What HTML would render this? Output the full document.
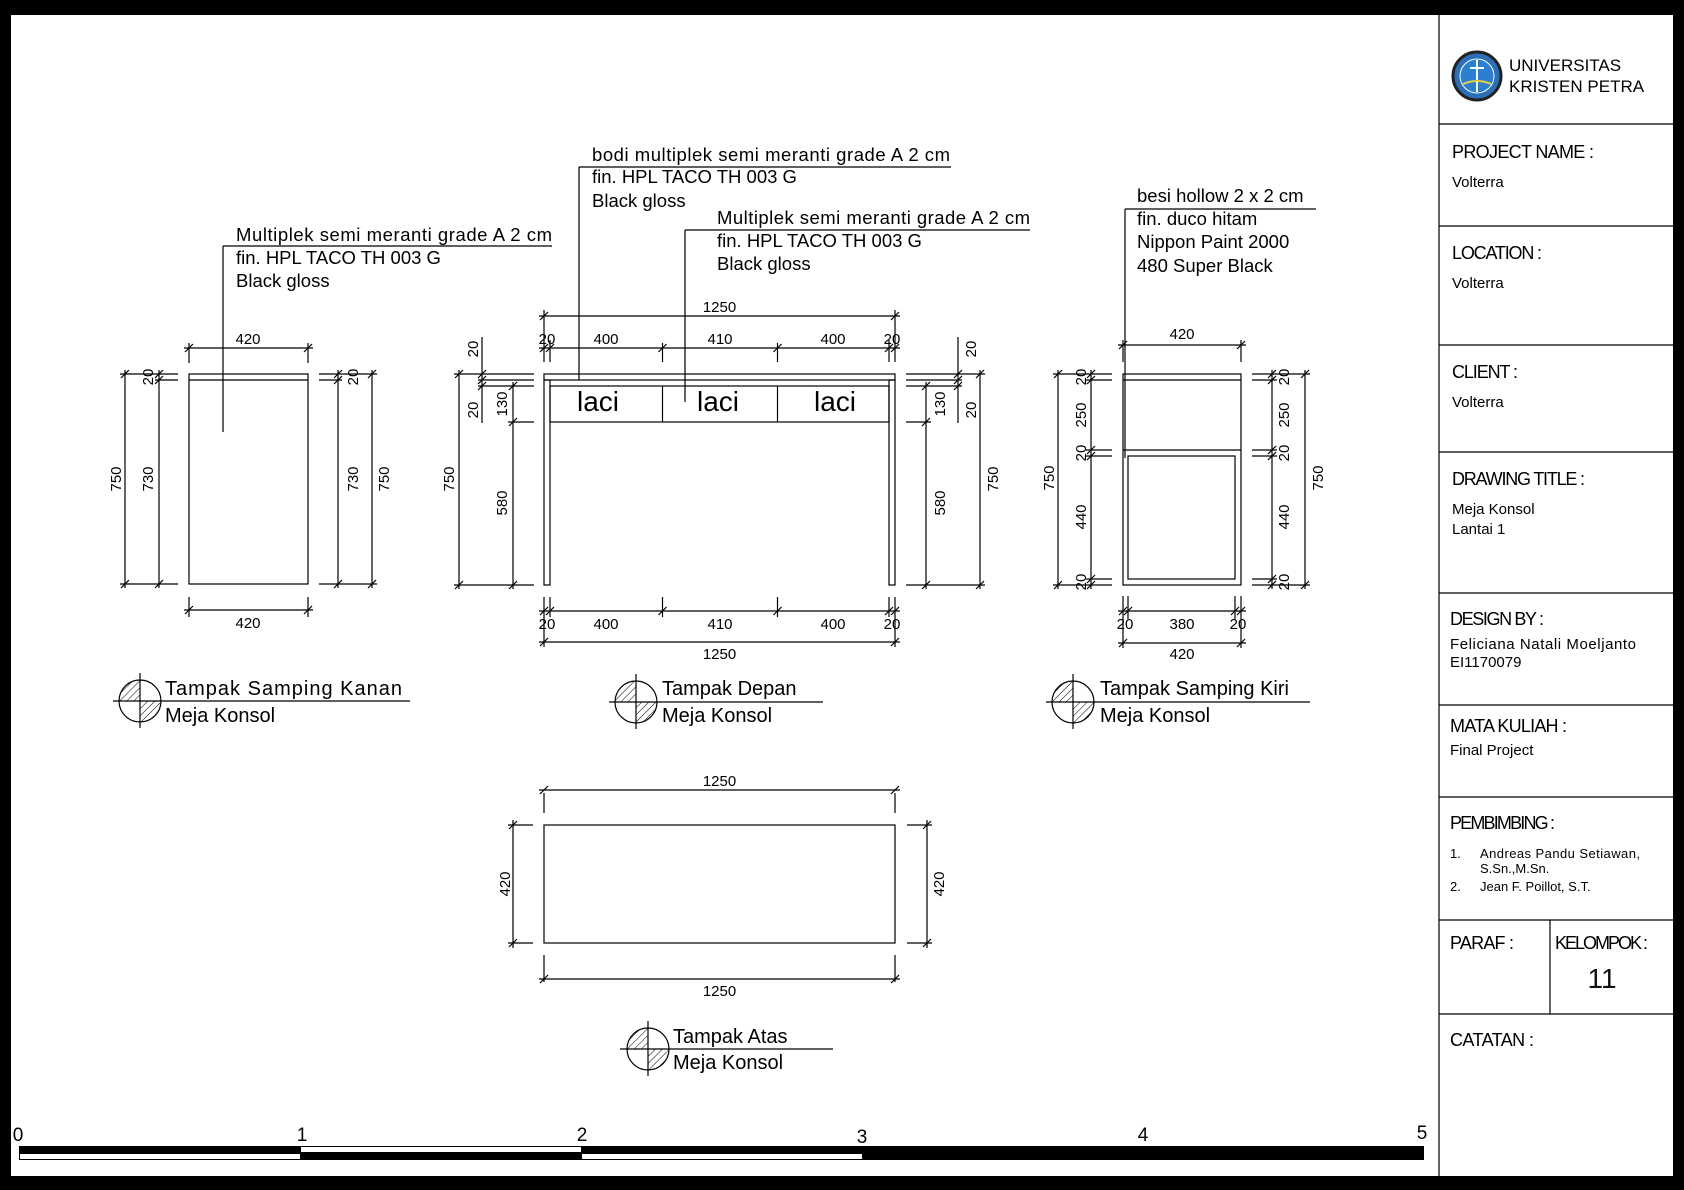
<!DOCTYPE html>
<html><head><meta charset="utf-8"><style>
html,body{margin:0;padding:0;background:#fff;}
svg{display:block;}
text{font-family:"Liberation Sans",Arial,sans-serif;fill:#000;}
.d{font-size:15px;text-anchor:middle;}
.a{font-size:18.5px;}
.l{font-size:20px;}
.tb{font-family:"Liberation Sans Narrow","Liberation Sans",sans-serif;fill:#111;}
</style></head><body>
<svg width="1684" height="1190" viewBox="0 0 1684 1190" xmlns="http://www.w3.org/2000/svg">
<defs>
<path id="t" d="M-4,4 L4,-4" stroke="#000" stroke-width="1.2"/>
<pattern id="h" width="5" height="5" patternUnits="userSpaceOnUse" patternTransform="rotate(45)">
<line x1="0" y1="0" x2="0" y2="5" stroke="#000" stroke-width="1"/>
</pattern>
</defs>
<rect width="1684" height="1190" fill="#fff"/>
<!-- frame -->
<rect x="0" y="0" width="1684" height="15" fill="#000"/>
<rect x="0" y="0" width="11" height="1190" fill="#000"/>
<rect x="1673" y="0" width="11" height="1190" fill="#000"/>
<rect x="0" y="1176" width="1684" height="14" fill="#000"/>

<g stroke="#000" stroke-width="1.2" fill="none">
<!-- title block lines -->
<line x1="1439" y1="15" x2="1439" y2="1176"/>
<line x1="1439" y1="124" x2="1673" y2="124"/>
<line x1="1439" y1="226" x2="1673" y2="226"/>
<line x1="1439" y1="345" x2="1673" y2="345"/>
<line x1="1439" y1="452" x2="1673" y2="452"/>
<line x1="1439" y1="593" x2="1673" y2="593"/>
<line x1="1439" y1="705" x2="1673" y2="705"/>
<line x1="1439" y1="797" x2="1673" y2="797"/>
<line x1="1439" y1="920" x2="1673" y2="920"/>
<line x1="1439" y1="1014" x2="1673" y2="1014"/>
<line x1="1550" y1="920" x2="1550" y2="1014"/>

<!-- ===== Right side view (left drawing) ===== -->
<rect x="189" y="374" width="119" height="210"/>
<line x1="189" y1="380" x2="308" y2="380"/>
<line x1="223" y1="246" x2="223" y2="432"/>
<line x1="223" y1="246" x2="552" y2="246"/>
<line x1="120" y1="374" x2="178" y2="374"/><line x1="155" y1="380" x2="178" y2="380"/><line x1="120" y1="584" x2="178" y2="584"/>
<line x1="125" y1="370" x2="125" y2="588"/><line x1="159" y1="370" x2="159" y2="588"/>
<line x1="319" y1="374" x2="377" y2="374"/><line x1="319" y1="380" x2="342" y2="380"/><line x1="319" y1="584" x2="377" y2="584"/>
<line x1="338" y1="370" x2="338" y2="588"/><line x1="372" y1="370" x2="372" y2="588"/>
<line x1="189" y1="343" x2="189" y2="363"/><line x1="308" y1="343" x2="308" y2="363"/><line x1="184" y1="348" x2="313" y2="348"/>
<line x1="189" y1="597" x2="189" y2="617"/><line x1="308" y1="597" x2="308" y2="617"/><line x1="184" y1="610" x2="313" y2="610"/>

<!-- ===== Front view ===== -->
<rect x="544" y="374" width="351" height="6"/>
<rect x="544" y="380" width="6" height="205"/>
<rect x="889" y="380" width="6" height="205"/>
<rect x="550" y="386" width="339" height="36"/>
<line x1="662.5" y1="386" x2="662.5" y2="422"/><line x1="777.5" y1="386" x2="777.5" y2="422"/>
<line x1="579" y1="167" x2="579" y2="380"/><line x1="579" y1="167" x2="951" y2="167"/>
<line x1="685" y1="230" x2="685" y2="402"/><line x1="685" y1="230" x2="1030" y2="230"/>
<line x1="544" y1="310" x2="544" y2="362"/><line x1="895" y1="310" x2="895" y2="362"/>
<line x1="550" y1="340" x2="550" y2="362"/><line x1="889" y1="340" x2="889" y2="362"/>
<line x1="662.5" y1="343" x2="662.5" y2="362"/><line x1="777.5" y1="343" x2="777.5" y2="362"/>
<line x1="539" y1="316" x2="900" y2="316"/><line x1="539" y1="348" x2="900" y2="348"/>
<line x1="544" y1="597" x2="544" y2="647"/><line x1="895" y1="597" x2="895" y2="647"/>
<line x1="550" y1="597" x2="550" y2="617"/><line x1="889" y1="597" x2="889" y2="617"/>
<line x1="662.5" y1="597" x2="662.5" y2="617"/><line x1="777.5" y1="597" x2="777.5" y2="617"/>
<line x1="539" y1="611" x2="900" y2="611"/><line x1="539" y1="642" x2="900" y2="642"/>
<line x1="454" y1="374" x2="534" y2="374"/><line x1="478" y1="380" x2="534" y2="380"/><line x1="478" y1="386" x2="534" y2="386"/>
<line x1="508" y1="422" x2="534" y2="422"/><line x1="454" y1="585" x2="534" y2="585"/>
<line x1="459" y1="370" x2="459" y2="589"/><line x1="482" y1="337" x2="482" y2="423"/><line x1="513" y1="382" x2="513" y2="589"/>
<line x1="906" y1="374" x2="985" y2="374"/><line x1="906" y1="380" x2="962" y2="380"/><line x1="906" y1="386" x2="962" y2="386"/>
<line x1="906" y1="422" x2="931" y2="422"/><line x1="906" y1="585" x2="985" y2="585"/>
<line x1="980" y1="370" x2="980" y2="589"/><line x1="958" y1="337" x2="958" y2="423"/><line x1="926" y1="382" x2="926" y2="589"/>

<!-- ===== Left side view (right drawing) ===== -->
<rect x="1123" y="374" width="118" height="211"/>
<line x1="1123" y1="380" x2="1241" y2="380"/>
<line x1="1123" y1="450" x2="1241" y2="450"/>
<rect x="1128" y="456" width="107" height="123"/>
<line x1="1125" y1="209" x2="1125" y2="458"/><line x1="1125" y1="209" x2="1316" y2="209"/>
<line x1="1053" y1="374" x2="1112" y2="374"/><line x1="1053" y1="585" x2="1112" y2="585"/>
<line x1="1086" y1="380" x2="1112" y2="380"/><line x1="1086" y1="450" x2="1112" y2="450"/><line x1="1086" y1="456" x2="1112" y2="456"/><line x1="1086" y1="579" x2="1112" y2="579"/>
<line x1="1058" y1="370" x2="1058" y2="589"/><line x1="1091" y1="370" x2="1091" y2="589"/>
<line x1="1252" y1="374" x2="1310" y2="374"/><line x1="1252" y1="585" x2="1310" y2="585"/>
<line x1="1252" y1="380" x2="1277" y2="380"/><line x1="1252" y1="450" x2="1277" y2="450"/><line x1="1252" y1="456" x2="1277" y2="456"/><line x1="1252" y1="579" x2="1277" y2="579"/>
<line x1="1272" y1="370" x2="1272" y2="589"/><line x1="1305" y1="370" x2="1305" y2="589"/>
<line x1="1123" y1="340" x2="1123" y2="362"/><line x1="1241" y1="340" x2="1241" y2="362"/><line x1="1118" y1="345" x2="1246" y2="345"/>
<line x1="1123" y1="596" x2="1123" y2="648"/><line x1="1241" y1="596" x2="1241" y2="648"/>
<line x1="1128" y1="596" x2="1128" y2="619"/><line x1="1235" y1="596" x2="1235" y2="619"/>
<line x1="1118" y1="611" x2="1246" y2="611"/><line x1="1118" y1="643" x2="1246" y2="643"/>

<!-- ===== Top view ===== -->
<rect x="544" y="825" width="351" height="118"/>
<line x1="544" y1="793" x2="544" y2="813"/><line x1="895" y1="793" x2="895" y2="813"/><line x1="539" y1="790" x2="900" y2="790"/>
<line x1="544" y1="955" x2="544" y2="982"/><line x1="895" y1="955" x2="895" y2="982"/><line x1="539" y1="979" x2="900" y2="979"/>
<line x1="508" y1="825" x2="533" y2="825"/><line x1="508" y1="943" x2="533" y2="943"/><line x1="513" y1="820" x2="513" y2="948"/>
<line x1="907" y1="825" x2="932" y2="825"/><line x1="907" y1="943" x2="932" y2="943"/><line x1="927" y1="820" x2="927" y2="948"/>

<!-- label symbols -->
<line x1="113" y1="701" x2="410" y2="701"/><line x1="140" y1="673" x2="140" y2="728"/><circle cx="140" cy="701" r="21"/>
<line x1="609" y1="702" x2="823" y2="702"/><line x1="636" y1="674" x2="636" y2="729"/><circle cx="636" cy="702" r="21"/>
<line x1="1046" y1="702" x2="1310" y2="702"/><line x1="1073" y1="674" x2="1073" y2="729"/><circle cx="1073" cy="702" r="21"/>
<line x1="620" y1="1049" x2="833" y2="1049"/><line x1="648" y1="1021" x2="648" y2="1076"/><circle cx="648" cy="1049" r="21"/>
</g>
<g fill="url(#h)" stroke="none">
<path d="M140,701 L119,701 A21,21 0 0 1 140,680 Z"/><path d="M140,701 L161,701 A21,21 0 0 1 140,722 Z"/>
<path d="M636,702 L615,702 A21,21 0 0 1 636,681 Z"/><path d="M636,702 L657,702 A21,21 0 0 1 636,723 Z"/>
<path d="M1073,702 L1052,702 A21,21 0 0 1 1073,681 Z"/><path d="M1073,702 L1094,702 A21,21 0 0 1 1073,723 Z"/>
<path d="M648,1049 L627,1049 A21,21 0 0 1 648,1028 Z"/><path d="M648,1049 L669,1049 A21,21 0 0 1 648,1070 Z"/>
</g>

<!-- ticks -->
<g>
<use href="#t" x="125" y="374"/><use href="#t" x="125" y="584"/><use href="#t" x="159" y="374"/><use href="#t" x="159" y="380"/><use href="#t" x="159" y="584"/>
<use href="#t" x="338" y="374"/><use href="#t" x="338" y="380"/><use href="#t" x="338" y="584"/><use href="#t" x="372" y="374"/><use href="#t" x="372" y="584"/>
<use href="#t" x="189" y="348"/><use href="#t" x="308" y="348"/><use href="#t" x="189" y="610"/><use href="#t" x="308" y="610"/>
<use href="#t" x="544" y="316"/><use href="#t" x="895" y="316"/>
<use href="#t" x="544" y="348"/><use href="#t" x="550" y="348"/><use href="#t" x="662.5" y="348"/><use href="#t" x="777.5" y="348"/><use href="#t" x="889" y="348"/><use href="#t" x="895" y="348"/>
<use href="#t" x="544" y="611"/><use href="#t" x="550" y="611"/><use href="#t" x="662.5" y="611"/><use href="#t" x="777.5" y="611"/><use href="#t" x="889" y="611"/><use href="#t" x="895" y="611"/>
<use href="#t" x="544" y="642"/><use href="#t" x="895" y="642"/>
<use href="#t" x="459" y="374"/><use href="#t" x="459" y="585"/><use href="#t" x="482" y="374"/><use href="#t" x="482" y="380"/><use href="#t" x="482" y="386"/>
<use href="#t" x="513" y="386"/><use href="#t" x="513" y="422"/><use href="#t" x="513" y="585"/>
<use href="#t" x="980" y="374"/><use href="#t" x="980" y="585"/><use href="#t" x="958" y="374"/><use href="#t" x="958" y="380"/><use href="#t" x="958" y="386"/>
<use href="#t" x="926" y="386"/><use href="#t" x="926" y="422"/><use href="#t" x="926" y="585"/>
<use href="#t" x="1058" y="374"/><use href="#t" x="1058" y="585"/><use href="#t" x="1305" y="374"/><use href="#t" x="1305" y="585"/>
<use href="#t" x="1091" y="374"/><use href="#t" x="1091" y="380"/><use href="#t" x="1091" y="450"/><use href="#t" x="1091" y="456"/><use href="#t" x="1091" y="579"/><use href="#t" x="1091" y="585"/>
<use href="#t" x="1272" y="374"/><use href="#t" x="1272" y="380"/><use href="#t" x="1272" y="450"/><use href="#t" x="1272" y="456"/><use href="#t" x="1272" y="579"/><use href="#t" x="1272" y="585"/>
<use href="#t" x="1123" y="345"/><use href="#t" x="1241" y="345"/>
<use href="#t" x="1123" y="611"/><use href="#t" x="1128" y="611"/><use href="#t" x="1235" y="611"/><use href="#t" x="1241" y="611"/>
<use href="#t" x="1123" y="643"/><use href="#t" x="1241" y="643"/>
<use href="#t" x="544" y="790"/><use href="#t" x="895" y="790"/><use href="#t" x="544" y="979"/><use href="#t" x="895" y="979"/>
<use href="#t" x="513" y="825"/><use href="#t" x="513" y="943"/><use href="#t" x="927" y="825"/><use href="#t" x="927" y="943"/>
</g>

<!-- dimension texts -->
<g class="d">
<text x="248" y="344">420</text><text x="248" y="628">420</text>
<text transform="translate(115,479) rotate(-90)" dy="6">750</text>
<text transform="translate(147,479) rotate(-90)" dy="6">730</text>
<text transform="translate(147,377) rotate(-90)" dy="6">20</text>
<text transform="translate(352,479) rotate(-90)" dy="6">730</text>
<text transform="translate(383,479) rotate(-90)" dy="6">750</text>
<text transform="translate(352,377) rotate(-90)" dy="6">20</text>

<text x="719.5" y="312">1250</text>
<text x="547" y="344">20</text><text x="606" y="344">400</text><text x="720" y="344">410</text><text x="833" y="344">400</text><text x="892" y="344">20</text>
<text x="547" y="629">20</text><text x="606" y="629">400</text><text x="720" y="629">410</text><text x="833" y="629">400</text><text x="892" y="629">20</text>
<text x="719.5" y="659">1250</text>
<text transform="translate(448,479) rotate(-90)" dy="6">750</text>
<text transform="translate(472,349) rotate(-90)" dy="6">20</text>
<text transform="translate(472,410) rotate(-90)" dy="6">20</text>
<text transform="translate(501,404) rotate(-90)" dy="6">130</text>
<text transform="translate(501,503) rotate(-90)" dy="6">580</text>
<text transform="translate(992,479) rotate(-90)" dy="6">750</text>
<text transform="translate(970,349) rotate(-90)" dy="6">20</text>
<text transform="translate(970,410) rotate(-90)" dy="6">20</text>
<text transform="translate(939,404) rotate(-90)" dy="6">130</text>
<text transform="translate(939,503) rotate(-90)" dy="6">580</text>

<text x="1182" y="339">420</text>
<text x="1125" y="629">20</text><text x="1182" y="629">380</text><text x="1238" y="629">20</text>
<text x="1182" y="659">420</text>
<text transform="translate(1048,478) rotate(-90)" dy="6">750</text>
<text transform="translate(1080,377) rotate(-90)" dy="6">20</text>
<text transform="translate(1080,415) rotate(-90)" dy="6">250</text>
<text transform="translate(1080,453) rotate(-90)" dy="6">20</text>
<text transform="translate(1080,517) rotate(-90)" dy="6">440</text>
<text transform="translate(1080,582) rotate(-90)" dy="6">20</text>
<text transform="translate(1283,377) rotate(-90)" dy="6">20</text>
<text transform="translate(1283,415) rotate(-90)" dy="6">250</text>
<text transform="translate(1283,453) rotate(-90)" dy="6">20</text>
<text transform="translate(1283,517) rotate(-90)" dy="6">440</text>
<text transform="translate(1283,582) rotate(-90)" dy="6">20</text>
<text transform="translate(1317,478) rotate(-90)" dy="6">750</text>

<text x="719.5" y="786">1250</text><text x="719.5" y="996">1250</text>
<text transform="translate(504,884) rotate(-90)" dy="6">420</text>
<text transform="translate(938,884) rotate(-90)" dy="6">420</text>
</g>

<g style="font-size:28px;text-anchor:middle">
<text x="598" y="411">laci</text><text x="718" y="411">laci</text><text x="835" y="411">laci</text>
</g>

<!-- annotations -->
<g class="a">
<text x="236" y="241" textLength="316">Multiplek semi meranti grade A 2 cm</text>
<text x="236" y="264">fin. HPL TACO TH 003 G</text>
<text x="236" y="287">Black gloss</text>
<text x="592" y="161" textLength="358">bodi multiplek semi meranti grade A 2 cm</text>
<text x="592" y="183">fin. HPL TACO TH 003 G</text>
<text x="592" y="207">Black gloss</text>
<text x="717" y="224" textLength="313">Multiplek semi meranti grade A 2 cm</text>
<text x="717" y="247">fin. HPL TACO TH 003 G</text>
<text x="717" y="270">Black gloss</text>
<text x="1137" y="202">besi hollow 2 x 2 cm</text>
<text x="1137" y="225">fin. duco hitam</text>
<text x="1137" y="248">Nippon Paint 2000</text>
<text x="1137" y="272">480 Super Black</text>
</g>

<g class="l">
<text x="165" y="695" textLength="237">Tampak Samping Kanan</text><text x="165" y="722">Meja Konsol</text>
<text x="662" y="695">Tampak Depan</text><text x="662" y="722">Meja Konsol</text>
<text x="1100" y="695">Tampak Samping Kiri</text><text x="1100" y="722">Meja Konsol</text>
<text x="673" y="1043">Tampak Atas</text><text x="673" y="1069">Meja Konsol</text>
</g>

<!-- scale bar -->
<rect x="19" y="1146" width="1405" height="14" fill="#000"/>
<rect x="20" y="1154" width="280" height="5" fill="#fff"/>
<rect x="301" y="1147" width="280" height="5" fill="#fff"/>
<rect x="582" y="1154" width="280" height="5" fill="#fff"/>
<g class="tb" style="font-size:19px;text-anchor:middle">
<text x="18" y="1141">0</text><text x="302" y="1141">1</text><text x="582" y="1141">2</text><text x="862" y="1143">3</text><text x="1143" y="1141">4</text><text x="1422" y="1139">5</text>
</g>

<!-- title block -->
<circle cx="1477" cy="76" r="24" fill="#2a6fb8" stroke="#222" stroke-width="3"/>
<circle cx="1477" cy="76" r="17" fill="#2a7fd0" stroke="#fff" stroke-width="1"/>
<line x1="1477" y1="60" x2="1477" y2="92" stroke="#fff" stroke-width="2"/>
<line x1="1470" y1="68" x2="1484" y2="68" stroke="#fff" stroke-width="2"/>
<path d="M1463,84 Q1477,78 1491,84" stroke="#e8d040" stroke-width="2" fill="none"/>
<text x="1509" y="71" style="font-size:17px">UNIVERSITAS</text>
<text x="1509" y="92" style="font-size:17px">KRISTEN PETRA</text>
<g class="tb" style="font-size:18px">
<text x="1452" y="158" textLength="142">PROJECT  NAME :</text>
<text x="1452" y="259" textLength="90">LOCATION :</text>
<text x="1452" y="378" textLength="66">CLIENT :</text>
<text x="1452" y="485" textLength="133">DRAWING TITLE :</text>
<text x="1450" y="625" textLength="94">DESIGN BY :</text>
<text x="1450" y="732" textLength="117">MATA KULIAH :</text>
<text x="1450" y="829" textLength="105">PEMBIMBING :</text>
<text x="1450" y="949" textLength="64">PARAF :</text>
<text x="1555" y="949" textLength="93">KELOMPOK :</text>
<text x="1450" y="1046" textLength="84">CATATAN :</text>
</g>
<g class="tb" style="font-size:15px">
<text x="1452" y="187">Volterra</text>
<text x="1452" y="288">Volterra</text>
<text x="1452" y="407">Volterra</text>
<text x="1452" y="514">Meja Konsol</text>
<text x="1452" y="534">Lantai 1</text>
<text x="1450" y="649" textLength="186">Feliciana Natali Moeljanto</text>
<text x="1450" y="667">EI1170079</text>
<text x="1450" y="755">Final Project</text>
</g>
<g class="tb" style="font-size:13px">
<text x="1450" y="858">1.</text><text x="1480" y="858" textLength="160">Andreas Pandu Setiawan,</text>
<text x="1480" y="873">S.Sn.,M.Sn.</text>
<text x="1450" y="891">2.</text><text x="1480" y="891">Jean F. Poillot, S.T.</text>
</g>
<text class="tb" x="1602" y="988" style="font-size:28px;text-anchor:middle;font-weight:300">11</text>
</svg>
</body></html>
